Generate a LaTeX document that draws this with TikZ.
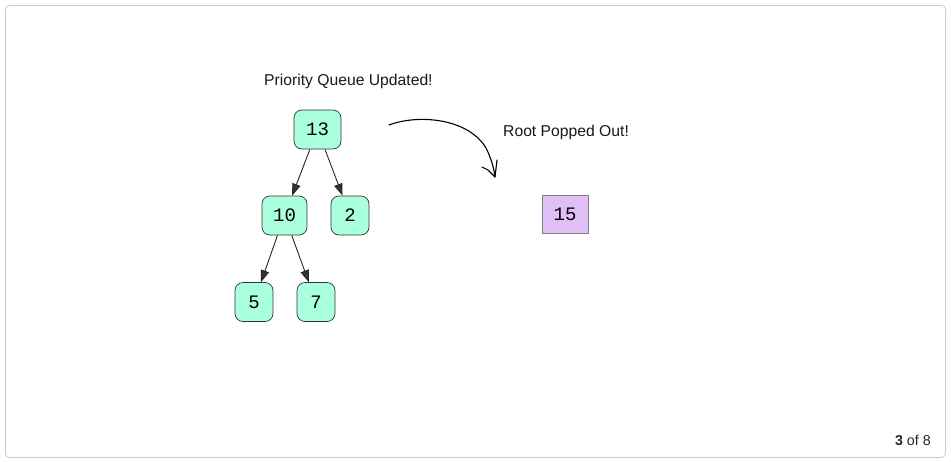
\documentclass[tikz,border=0pt]{standalone}
\usepackage{fontspec}
\setmainfont{Liberation Sans}
\newfontfamily\monofont{Liberation Mono}
\usetikzlibrary{arrows.meta}
\definecolor{heapfill}{HTML}{AAFFDD}
\definecolor{poppedfill}{HTML}{E0BFF7}
\definecolor{framegray}{HTML}{CCCCCC}
\definecolor{edgegray}{HTML}{333333}
\begin{document}
\begin{tikzpicture}[x=1pt,y=-1pt,
  heapnode/.style={draw=edgegray, fill=heapfill, rounded corners=8pt, line width=0.7pt,
    minimum height=39pt, inner sep=0pt, font=\monofont\fontsize{19}{19}\selectfont},
  poppednode/.style={draw=gray, fill=poppedfill, minimum width=46pt, line width=0.8pt,
    minimum height=38pt, inner sep=0pt, font=\monofont\fontsize{19}{19}\selectfont},
  heapedge/.style={draw=black!85, line width=0.9pt,
    -{Triangle[length=12pt,width=8.5pt,fill=edgegray]}},
  caption/.style={font=\fontsize{15.7}{17}\selectfont, text=black!90}
]
\useasboundingbox (0,0) rectangle (951,461);
% panel frame
\draw[framegray, rounded corners=4pt, line width=0.8pt] (5.5,5.5) rectangle (945.5,457.5);

% heap after removing the root
\node[heapnode, minimum width=47pt] (n13) at (317.5,129.5) {13};
\node[heapnode, minimum width=45pt] (n10) at (284.5,215.5) {10};
\node[heapnode, minimum width=38pt] (n2)  at (350,215.5)   {2};
\node[heapnode, minimum width=38pt] (n5)  at (254,302)     {5};
\node[heapnode, minimum width=38pt] (n7)  at (316,302)     {7};

\path[heapedge] (n13) -- (n10);
\path[heapedge] (n13) -- (n2);
\path[heapedge] (n10) -- (n5);
\path[heapedge] (n10) -- (n7);

% popped root
\node[poppednode] (n15) at (565,214) {15};

% captions
\node[caption, anchor=west, inner sep=0pt] (updated) at (264,81) {Priority Queue Updated!};
\node[caption, anchor=west, inner sep=0pt] (popped) at (503,132) {Root Popped Out!};

% hand-drawn arrow
\coordinate (swoopstart) at (389,125);
\coordinate (swoopmid) at (486,148);
\coordinate (swooptip) at (495,177);
\draw[black, line width=1.1pt, line cap=round, line join=round]
  (swoopstart) .. controls (418,114) and (468,118) .. (swoopmid)
  .. controls (491,158) and (494,168) .. (swooptip);
\draw[black, line width=1.1pt, line cap=round, line join=round]
  (482,167) -- (488,170) -- (swooptip) -- (497,160);

% slide counter
\node[anchor=east, inner sep=0pt, font=\fontsize{14.3}{15}\selectfont, text=black!85] (counter)
  at (931,440) {\textbf{3} of 8};
\end{tikzpicture}
\end{document}
